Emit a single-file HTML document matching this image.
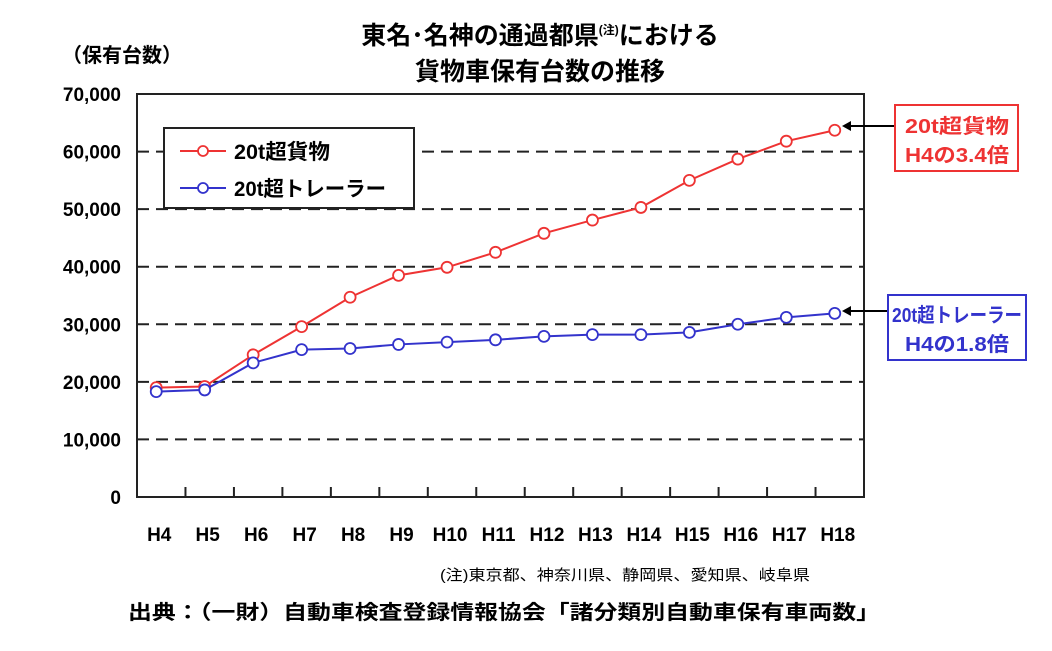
<!DOCTYPE html>
<html><head><meta charset="utf-8"><style>
body{margin:0;background:#fff;width:1052px;height:646px;overflow:hidden;font-family:"Liberation Sans","Noto Sans CJK JP",sans-serif}
</style></head><body>
<svg width="1052" height="646" style="font-family:'Liberation Sans','Noto Sans CJK JP',sans-serif">
<text x="540" y="44" text-anchor="middle" font-size="25" font-weight="bold">東名･名神の通過都県<tspan font-size="12" dy="-10">(注)</tspan><tspan dy="10">における</tspan></text>
<text x="540" y="80" text-anchor="middle" font-size="25" font-weight="bold">貨物車保有台数の推移</text>
<text x="62" y="62" font-size="20" font-weight="bold">（保有台数）</text>
<g id="grid"></g>
<rect x="137" y="94" width="727" height="403" fill="none" stroke="#222" stroke-width="2"/>
<g id="ticks"></g>
<g id="series"></g>
<g>
<rect x="164" y="128" width="250" height="80" fill="#fff" stroke="#222" stroke-width="2"/>
<line x1="180" y1="151" x2="226" y2="151" stroke="#e33" stroke-width="2"/><circle cx="203" cy="151" r="5" fill="#fff" stroke="#e33" stroke-width="1.8"/>
<text x="234" y="159" font-size="21" font-weight="bold" textLength="96" lengthAdjust="spacingAndGlyphs">20t超貨物</text>
<line x1="180" y1="188" x2="226" y2="188" stroke="#33c" stroke-width="2"/><circle cx="203" cy="188" r="5" fill="#fff" stroke="#33c" stroke-width="1.8"/>
<text x="234" y="196" font-size="21" font-weight="bold" textLength="152" lengthAdjust="spacingAndGlyphs">20t超トレーラー</text>
</g>
<g>
<line x1="848" y1="126" x2="895" y2="126" stroke="#000" stroke-width="2"/><polygon points="842,126 851,121 851,131" fill="#000"/>
<rect x="895" y="105" width="123" height="66" fill="#fff" stroke="#e33" stroke-width="2"/>
<text x="957" y="133" text-anchor="middle" font-size="20" font-weight="bold" fill="#e33" textLength="104" lengthAdjust="spacingAndGlyphs">20t超貨物</text>
<text x="957" y="162" text-anchor="middle" font-size="20" font-weight="bold" fill="#e33" textLength="104" lengthAdjust="spacingAndGlyphs">H4の3.4倍</text>
</g>
<g>
<line x1="848" y1="311" x2="888" y2="311" stroke="#000" stroke-width="2"/><polygon points="842,311 851,306 851,316" fill="#000"/>
<rect x="888" y="295" width="138" height="65" fill="#fff" stroke="#33c" stroke-width="2"/>
<text x="957" y="322" text-anchor="middle" font-size="20" font-weight="bold" fill="#33c" textLength="130" lengthAdjust="spacingAndGlyphs">20t超トレーラー</text>
<text x="957" y="351" text-anchor="middle" font-size="20" font-weight="bold" fill="#33c" textLength="104" lengthAdjust="spacingAndGlyphs">H4の1.8倍</text>
</g>
<text x="440" y="580" font-size="15" textLength="370" lengthAdjust="spacingAndGlyphs">(注)東京都、神奈川県、静岡県、愛知県、岐阜県</text>
<text x="128" y="619" font-size="20" font-weight="bold" textLength="752" lengthAdjust="spacingAndGlyphs">出典：（一財）自動車検査登録情報協会「諸分類別自動車保有車両数」</text>
</svg>
<script>
const categories=["H4","H5","H6","H7","H8","H9","H10","H11","H12","H13","H14","H15","H16","H17","H18"];
const cargo=[19000,19200,24700,29600,34700,38500,39900,42500,45800,48100,50300,55000,58700,61800,63700];
const trailer=[18300,18600,23300,25600,25800,26500,26900,27300,27900,28200,28200,28600,30000,31200,31900];
const yTicks=[0,10000,20000,30000,40000,50000,60000,70000];
const yLabels=["0","10,000","20,000","30,000","40,000","50,000","60,000","70,000"];
const NS="http://www.w3.org/2000/svg";
const L=137,R=864,T=94,B=497,yMax=70000;
const step=(R-L)/categories.length;
const x=i=>L+step*(i+0.5)-5;
const y=v=>B-(v/yMax)*(B-T);
function mk(t,a,p){const e=document.createElementNS(NS,t);for(const k in a)e.setAttribute(k,a[k]);p.appendChild(e);return e;}
const grid=document.getElementById('grid'),ticks=document.getElementById('ticks'),ser=document.getElementById('series');
yTicks.forEach((v,i)=>{
 if(v>0&&v<yMax){const g=mk('line',{x1:L,x2:R,y1:y(v),y2:y(v),stroke:'#222','stroke-width':2,'stroke-dasharray':'12,7'},grid);
 
 }
 const t=mk('text',{x:L-16,y:y(v)+7,'text-anchor':'end','font-size':19,'font-weight':'bold'},ticks);t.textContent=yLabels[i];
 
 
});
categories.forEach((c,i)=>{
 if(i>0){const tk=mk('line',{x1:L+step*i,x2:L+step*i,y1:B,y2:B-10,stroke:'#222','stroke-width':2},ticks);
 
 }
 const t=mk('text',{x:x(i)+3,y:541,'text-anchor':'middle','font-size':19,'font-weight':'bold'},ticks);t.textContent=c;
 
 
});
function draw(vals,col,name){
 const p=mk('polyline',{points:vals.map((v,i)=>x(i)+','+y(v)).join(' '),fill:'none',stroke:col,'stroke-width':2},ser);
 
 
 vals.forEach((v,i)=>{const c=mk('circle',{cx:x(i),cy:y(v),r:5.5,fill:'#fff',stroke:col,'stroke-width':1.8},ser);
 
 });
}
draw(cargo,'#e33','cargo');
draw(trailer,'#33c','trailer');
</script>
</body></html>
